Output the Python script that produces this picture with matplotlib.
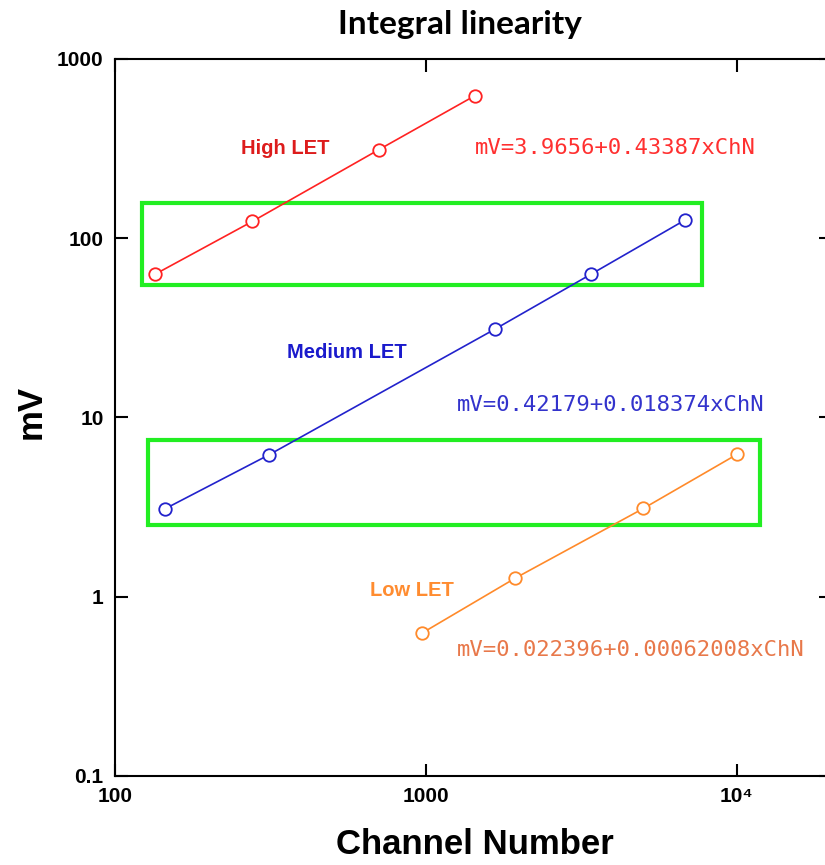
import numpy as np
import matplotlib
matplotlib.use("Agg")
import matplotlib.pyplot as plt
from matplotlib.patches import Rectangle

# channel number vs mV for the three LET ranges
high_ch = [135, 277, 705, 1435]
high_mv = [63, 124, 311, 622]
med_ch = [145, 314, 1675, 3400, 6800]
med_mv = [3.09, 6.2, 31.2, 63, 126]
low_ch = [970, 1940, 5010, 10000]
low_mv = [0.625, 1.27, 3.11, 6.22]

high_eq = "mV=3.9656+0.43387xChN"
med_eq = "mV=0.42179+0.018374xChN"
low_eq = "mV=0.022396+0.00062008xChN"

# highlighted regions (x0, x1, y0, y1)
box_upper = (122.5, 7730, 54.8, 157)
box_lower = (128, 11860, 2.51, 7.48)

xticks = [100, 1000, 10000]
xlabels = ["100", "1000", "10\u2074"]
yticks = [0.1, 1, 10, 100, 1000]
ylabels = ["0.1", "1", "10", "100", "1000"]

plt.rcParams['font.family'] = ['Liberation Sans', 'DejaVu Sans']

fig = plt.figure(figsize=(8.25, 8.65), dpi=100)
ax = fig.add_axes([0.139, 0.1029, 0.8677, 0.829])

mk = dict(marker='o', markersize=9, markerfacecolor='white', markeredgewidth=1.3, linewidth=1.2)
ax.plot(high_ch, high_mv, color='#ff2222', markeredgecolor='#ff2222', **mk)
ax.plot(med_ch, med_mv, color='#2222cc', markeredgecolor='#2222cc', **mk)
ax.plot(low_ch, low_mv, color='#ff8a2a', markeredgecolor='#ff8a2a', **mk)

for b in [box_upper, box_lower]:
    ax.add_patch(Rectangle((b[0], b[2]), b[1] - b[0], b[3] - b[2], fill=False,
                           edgecolor='#22ee22', linewidth=3, zorder=1))

ax.set_xscale('log')
ax.set_yscale('log')
ax.set_xlim(100, 20000)
ax.set_ylim(0.1, 1000)

ax.text(354, 318, "High LET", color='#dd1c1c', fontsize=14.5, fontweight='bold', ha='center', va='center')
ax.text(557, 22.9, "Medium LET", color='#1a1acc', fontsize=14.5, fontweight='bold', ha='center', va='center')
ax.text(904, 1.09, "Low LET", color='#ff8c30', fontsize=14.5, fontweight='bold', ha='center', va='center')

mono = 'DejaVu Sans Mono'
ax.text(1435, 318, high_eq, color='#ff3030', fontsize=16, family=mono, ha='left', va='center')
ax.text(1262, 11.7, med_eq, color='#3333cc', fontsize=16, family=mono, ha='left', va='center')
ax.text(1262, 0.505, low_eq, color='#e8784a', fontsize=16, family=mono, ha='left', va='center')

ax.set_xticks(xticks)
ax.set_xticklabels(xlabels)
ax.set_yticks(yticks)
ax.set_yticklabels(ylabels)
ax.minorticks_off()
ax.tick_params(which='major', direction='in', length=9, width=1.5, top=True, right=True,
               labelsize=15, pad=8)
for lab in ax.get_xticklabels() + ax.get_yticklabels():
    lab.set_fontweight('bold')
for s in ax.spines.values():
    s.set_linewidth(1.5)

ax.set_xlabel("Channel Number", fontsize=25, fontweight='bold', va='center')
ax.set_ylabel("mV", fontsize=25, fontweight='bold', va='center')
ax.xaxis.set_label_coords(0.503, -0.0962)
ax.yaxis.set_label_coords(-0.117, 0.508)

fig.text(0.558, 0.972, "Integral linearity", fontsize=24, fontweight='bold',
         family=['Lato', 'DejaVu Sans'], ha='center', va='center')

fig.savefig("out.png", dpi=100)
